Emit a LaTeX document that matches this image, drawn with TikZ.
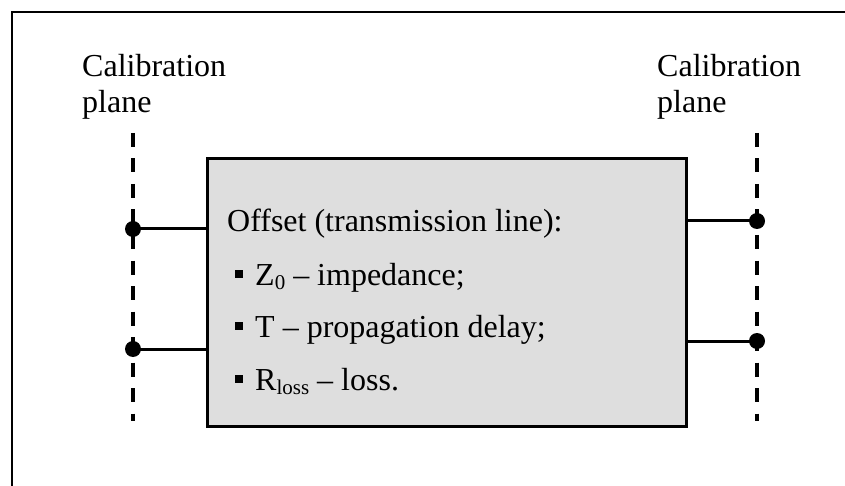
\documentclass[tikz,border=0pt]{standalone}
\usepackage{fontspec}
\setmainfont{Liberation Serif}
\begin{document}
\begin{tikzpicture}[x=1pt,y=-1pt,
  lbl/.style={anchor=base west, inner sep=0pt, font=\fontsize{32}{36}\selectfont},
  frame/.style={line width=2pt},
  plane/.style={line width=3.5pt, dash pattern=on 14pt off 11.5pt},
  wire/.style={line width=3pt},
  term/.style={circle, fill=black, inner sep=0pt, minimum size=16pt},
  dut/.style={draw, line width=3pt, fill=black!13, anchor=north west, inner sep=0pt, minimum width=479pt, minimum height=268pt},
  bul/.style={fill=black, inner sep=0pt, minimum size=8.5pt}]
\useasboundingbox (0,0) rectangle (845,486);
% frame
\coordinate (f0) at (12,486);
\coordinate (f1) at (12,12);
\coordinate (f2) at (845,12);
\draw[frame] (f0) -- (f1) -- (f2);
% box
\node[dut] (box) at (206,157) {};
% calibration planes
\coordinate (lt) at (133,133); \coordinate (lb) at (133,421);
\coordinate (rt) at (757,133); \coordinate (rb) at (757,421);
\draw[plane] (lt) -- (lb);
\draw[plane] (rt) -- (rb);
% terminals
\node[term] (l1) at (133,229) {};
\node[term] (l2) at (133,349) {};
\node[term] (r1) at (757,221) {};
\node[term] (r2) at (757,341) {};
\draw[wire] (l1.center) -- (box.west |- l1);
\draw[wire] (l2.center) -- (box.west |- l2);
\draw[wire] (r1.center) -- (box.east |- r1);
\draw[wire] (r2.center) -- (box.east |- r2);
% labels
\node[lbl] (cl1) at (82,77) {Calibration};
\node[lbl] (cl2) at (82,113) {plane};
\node[lbl] (cr1) at (657,77) {Calibration};
\node[lbl] (cr2) at (657,113) {plane};
% box text
\node[lbl] (t0) at (227,232) {Offset (transmission line):};
\node[bul] (b1) at (239,274) {};
\node[bul] (b2) at (239,326) {};
\node[bul] (b3) at (239,379) {};
\node[lbl] (t1) at (255,285) {Z\raisebox{-0.3ex}{\fontsize{21}{21}\selectfont 0} -- impedance;};
\node[lbl] (t2) at (255,337) {T -- propagation delay;};
\node[lbl] (t3) at (255,390) {R\raisebox{-0.3ex}{\fontsize{21}{21}\selectfont loss} -- loss.};
\end{tikzpicture}
\end{document}
